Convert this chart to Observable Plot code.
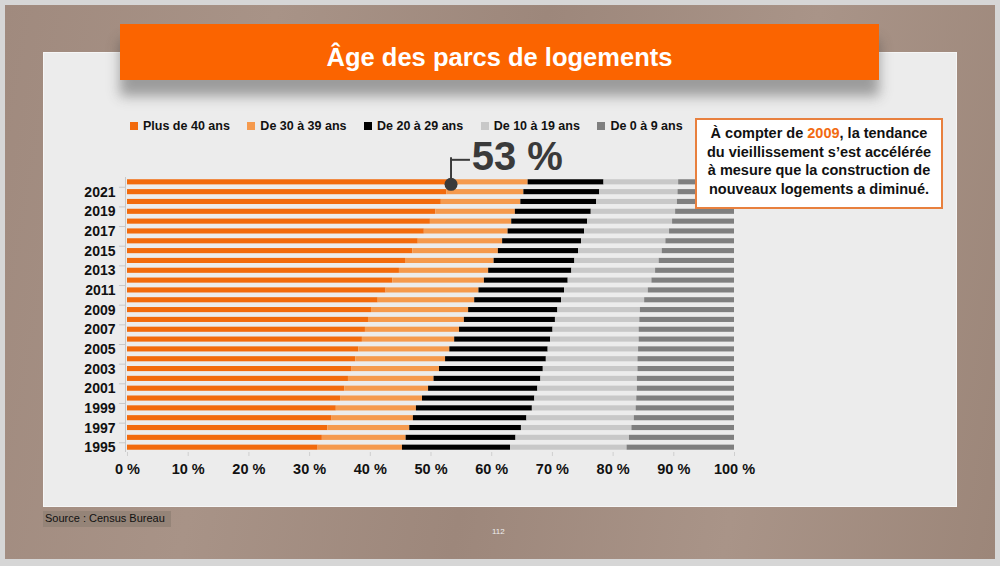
<!DOCTYPE html>
<html>
<head>
<meta charset="utf-8">
<script src="https://cdn.jsdelivr.net/npm/d3@7"></script>
<script src="https://cdn.jsdelivr.net/npm/@observablehq/plot@0.6"></script>
<style>
  html, body { margin: 0; padding: 0; }
  body { width: 1000px; height: 566px; position: relative; overflow: hidden; background: #d6d6d6; font-family: "Liberation Sans", Arial, sans-serif; }
  #wood { position: absolute; left: 5px; top: 5px; right: 5px; bottom: 7px;
    background: linear-gradient(100deg, #a08a7e 0%, #a89387 25%, #9d877b 50%, #a99488 75%, #9c8679 100%); }
  #panel { position: absolute; left: 43px; top: 52px; width: 912px; height: 453px; background: #ececec; border: 1px solid #f6f6f6; }
  #banner { position: absolute; left: 120px; top: 24px; width: 759px; height: 56px; background: #fb6400;
    box-shadow: 0 16px 12px rgba(60,60,60,0.45); color: #fff; font-weight: bold; font-size: 25.5px;
    text-align: center; line-height: 56px; z-index: 3; box-sizing: border-box; padding-top: 5px; }
  #banner span { display: inline-block; line-height: 1; }
  #chart { position: absolute; left: 0; top: 0; z-index: 2; }
  #legend { position: absolute; left: 130px; top: 119px; z-index: 3; font-size: 12.5px; font-weight: bold; color: #111; white-space: nowrap; }
  #legend span.item { display: inline-block; margin-right: 17.5px; }
  #legend span.sw { display: inline-block; width: 8px; height: 8px; margin-right: 5px; vertical-align: 0px; }
  #note { position: absolute; left: 695px; top: 118px; width: 244px; height: 83px; background: #fff; border: 2px solid #e8803e;
    z-index: 4; font-weight: bold; font-size: 14.5px; line-height: 18.6px; color: #111; text-align: center; padding-top: 4px; box-sizing: content-box; }
  #note .hl { color: #f26a10; }
  #source { position: absolute; left: 43px; top: 511px; width: 126px; height: 16px; background: #958478; font-size: 11px; color: #111; padding-left: 2px; line-height: 15px; }
  #page { position: absolute; left: 492px; top: 527px; font-size: 8px; color: #eee; }
</style>
</head>
<body>
<div id="wood"></div>
<div id="panel"></div>
<div id="banner"><span>Âge des parcs de logements</span></div>
<div id="legend"></div>
<div id="chart"></div>
<div id="note">À compter de <span class="hl">2009</span>, la tendance<br>du vieillissement s’est accélérée<br>à mesure que la construction de<br>nouveaux logements a diminué.</div>
<div id="source">Source : Census Bureau</div>
<div id="page">112</div>
<script>
const years = [1995,1996,1997,1998,1999,2000,2001,2002,2003,2004,2005,2006,2007,2008,2009,2010,2011,2012,2013,2014,2015,2016,2017,2018,2019,2020,2021,2022];
const categories = ["Plus de 40 ans", "De 30 à 39 ans", "De 20 à 29 ans", "De 10 à 19 ans", "De 0 à 9 ans"];
const plus40 = [31.4,32.1,33.0,33.7,34.4,35.1,35.8,36.4,37.0,37.6,38.1,38.7,39.2,39.7,40.2,41.3,42.6,43.7,44.8,45.8,47.0,47.9,48.9,49.9,50.8,51.7,52.6,53.3];
const de30 = [13.9,13.8,13.5,13.4,13.2,13.5,13.8,14.1,14.4,14.8,15.0,15.2,15.5,15.8,16.0,15.9,15.3,15.1,14.7,14.6,14.1,13.9,13.8,13.4,13.1,13.1,12.7,12.7];
const de20 = [17.8,18.1,18.4,18.7,19.1,18.5,18.0,17.6,17.1,16.6,16.2,15.8,15.4,15.0,14.7,14.3,14.1,13.8,13.7,13.3,13.2,13.0,12.6,12.5,12.5,12.5,12.5,12.5];
const de10 = [19.2,18.7,18.2,17.7,17.1,16.8,16.4,15.9,15.6,15.1,14.9,14.6,14.2,13.9,13.6,13.7,13.8,13.8,13.8,13.9,13.8,13.9,14.0,14.0,13.9,13.3,12.9,12.3];
const de0 = [17.7,17.3,16.9,16.5,16.2,16.1,16.0,16.0,15.9,15.9,15.8,15.7,15.7,15.6,15.5,14.8,14.2,13.6,13.0,12.4,11.9,11.3,10.7,10.2,9.7,9.4,9.3,9.2];
const yearLabels = [1995,1997,1999,2001,2003,2005,2007,2009,2011,2013,2015,2017,2019,2021];
const xTicks = [0,10,20,30,40,50,60,70,80,90,100];

const colors = ["#f26a0c", "#f59a4e", "#000000", "#c8c8c8", "#7f7f7f"];
const series = [plus40, de30, de20, de10, de0];

const data = [];
years.forEach((yr, i) => {
  categories.forEach((c, k) => data.push({year: yr, cat: c, value: series[k][i]}));
});

const lastYear = years[years.length - 1];
const lastVal = plus40[plus40.length - 1];
const callout = [{year: lastYear, value: lastVal}];

// legend
const lg = document.getElementById("legend");
categories.forEach((c, k) => {
  const it = document.createElement("span");
  it.className = "item";
  it.innerHTML = `<span class="sw" style="background:${colors[k]}"></span>${c}`;
  lg.appendChild(it);
});

const chart = Plot.plot({
  width: 1000,
  height: 566,
  marginLeft: 127,
  marginRight: 266,
  marginTop: 177,
  marginBottom: 114,
  style: {background: "transparent", fontFamily: "Liberation Sans, Arial, sans-serif", color: "#111"},
  x: {domain: [0, 100]},
  y: {domain: years.slice().reverse(), paddingInner: 0.48, paddingOuter: 0.23, round: false},
  color: {domain: categories, range: colors},
  marks: [
    Plot.ruleX([0], {dx: -2, stroke: "#c8c8c8"}),
    Plot.ruleY(yearLabels, {y: d => d, x1: -1, x2: 0, dx: -2, dy: -4.9, stroke: "#c8c8c8"}),
    Plot.barX(data, Plot.stackX({x: "value", y: "year", fill: "cat", order: categories})),
    Plot.axisY({ticks: yearLabels, tickSize: 0, tickPadding: 12, fontSize: 14, fontWeight: "bold", label: null,
      tickFormat: d => String(d)}),
    Plot.axisX({ticks: xTicks, tickSize: 4, stroke: "#cfcfcf", fill: "#111", tickPadding: 7, fontSize: 14.5, fontWeight: "bold",
      tickFormat: d => d + " %", label: null}),
    Plot.tickX(callout, {x: "value", y: "year", insetTop: -22, insetBottom: 3, stroke: "#3a3a3a", strokeWidth: 2}),
    Plot.ruleY(callout, {y: "year", x1: "value", x2: d => d.value + 3.2, dy: -22.5, stroke: "#3a3a3a", strokeWidth: 2}),
    Plot.dot(callout, {x: "value", y: "year", dy: 2, r: 6.5, fill: "#3a3a3a"}),
    Plot.text(callout, {x: d => d.value + 3.4, y: "year", dy: -25, text: d => Math.round(d.value) + " %",
      textAnchor: "start", fontSize: 40, fontWeight: "bold", fill: "#3a3a3a"})
  ]
});
document.getElementById("chart").appendChild(chart);
</script>
</body>
</html>
